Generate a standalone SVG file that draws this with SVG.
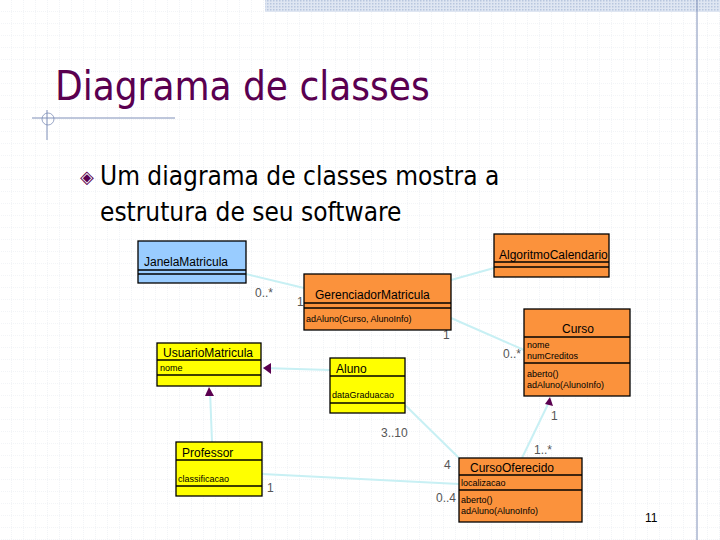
<svg xmlns="http://www.w3.org/2000/svg" width="720" height="540" viewBox="0 0 720 540">
<defs>
<pattern id="grid" width="12" height="12" patternUnits="userSpaceOnUse"><path d="M12 0V12H0" fill="none" stroke="#d4dbe6" stroke-width="0.6" stroke-dasharray="1,1"/></pattern>
<pattern id="hatch" width="3" height="3" patternUnits="userSpaceOnUse"><rect width="3" height="3" fill="#dfe6f2"/><rect width="1.5" height="1.5" fill="#b8c6de"/></pattern>
</defs>
<style>
.b{stroke:#000;stroke-width:1.3}
.o{fill:#fb923c}.y{fill:#ffff00}.bl{fill:#99ccff}
.t{font-family:"Liberation Sans",Arial,sans-serif;font-size:12px;fill:#000}
.s{font-family:"Liberation Sans",Arial,sans-serif;font-size:9px;fill:#000}
.m{font-family:"Liberation Sans",Arial,sans-serif;font-size:12px;fill:#555}
.c{stroke:#c8f0f4;stroke-width:2;fill:none}
</style>
<rect width="720" height="540" fill="#fff"/>
<rect width="720" height="540" fill="url(#grid)"/>
<rect x="265" y="0" width="455" height="12" fill="url(#hatch)"/>
<line x1="697" y1="0" x2="697" y2="540" stroke="#7f8fb8" stroke-width="1"/>
<line x1="32" y1="118" x2="175" y2="118" stroke="#7f8fb8" stroke-width="1"/>
<line x1="47" y1="110" x2="47" y2="140" stroke="#7f8fb8" stroke-width="1"/>
<circle cx="48" cy="119" r="6" fill="none" stroke="#7f8fb8" stroke-width="0.8"/>
<text x="55" y="100" font-family="DejaVu Sans Condensed,Verdana,sans-serif" font-size="40" fill="#5a0050">Diagrama de classes</text>
<text x="80" y="183" font-family="DejaVu Sans" font-size="18" fill="#5a0050">◈</text>
<text x="100" y="185" font-family="DejaVu Sans Condensed,Verdana,sans-serif" font-size="26" fill="#000">Um diagrama de classes mostra a</text>
<text x="100" y="221" font-family="DejaVu Sans Condensed,Verdana,sans-serif" font-size="26" fill="#000">estrutura de seu software</text>
<g id="connectors">
<path class="c" d="M246 274L304 288"/>
<path class="c" d="M451 280L494 268"/>
<path class="c" d="M451 318L524 350"/>
<path class="c" d="M330 370L263 368"/>
<path class="c" d="M212 442L210 390"/>
<path class="c" d="M405 405L459 458"/>
<path class="c" d="M262 474L459 484"/>
<path class="c" d="M522 458L550 400"/>
<polygon points="263,368 271,363 271,374" fill="#5a0050"/>
<polygon points="209,387 205,396 214,396" fill="#5a0050"/>
<polygon points="550,397 545,404 553,406" fill="#5a0050"/>
<text class="m" x="255" y="297">0..*</text>
<text class="m" x="297" y="306">1</text>
<text class="m" x="443" y="339">1</text>
<text class="m" x="503" y="358">0..*</text>
<text class="m" x="551" y="420">1</text>
<text class="m" x="381" y="437">3..10</text>
<text class="m" x="534" y="454">1..*</text>
<text class="m" x="444" y="469">4</text>
<text class="m" x="267" y="492">1</text>
<text class="m" x="436" y="502">0..4</text>
</g>
<g id="JanelaMatricula"><rect class="b bl" x="138" y="241" width="108" height="42"/><line class="b" x1="138" y1="270" x2="246" y2="270"/><line class="b" x1="138" y1="274" x2="246" y2="274"/><text class="t" x="144" y="266">JanelaMatricula</text></g>
<g id="GerenciadorMatricula"><rect class="b o" x="304" y="274" width="147" height="56"/><line class="b" x1="304" y1="303" x2="451" y2="303"/><line class="b" x1="304" y1="308" x2="451" y2="308"/><text class="t" x="315" y="299">GerenciadorMatricula</text><text class="s" x="306" y="322">adAluno(Curso, AlunoInfo)</text></g>
<g id="AlgoritmoCalendario"><rect class="b o" x="494" y="234" width="115" height="43"/><line class="b" x1="494" y1="262" x2="609" y2="262"/><line class="b" x1="494" y1="267" x2="609" y2="267"/><text class="t" x="499" y="259">AlgoritmoCalendario</text></g>
<g id="Curso"><rect class="b o" x="524" y="309" width="106" height="87"/><line class="b" x1="524" y1="337" x2="630" y2="337"/><line class="b" x1="524" y1="363" x2="630" y2="363"/><text class="t" x="562" y="333">Curso</text><text class="s" x="527" y="348">nome</text><text class="s" x="527" y="359">numCreditos</text><text class="s" x="527" y="377">aberto()</text><text class="s" x="527" y="388">adAluno(AlunoInfo)</text></g>
<g id="UsuarioMatricula"><rect class="b y" x="157" y="343" width="104" height="43"/><line class="b" x1="157" y1="360" x2="261" y2="360"/><line class="b" x1="157" y1="375" x2="261" y2="375"/><text class="t" x="163" y="357">UsuarioMatricula</text><text class="s" x="160" y="371">nome</text></g>
<g id="Aluno"><rect class="b y" x="330" y="358" width="75" height="55"/><line class="b" x1="330" y1="376" x2="405" y2="376"/><line class="b" x1="330" y1="403" x2="405" y2="403"/><text class="t" x="336" y="373">Aluno</text><text class="s" x="332" y="398">dataGraduacao</text></g>
<g id="Professor"><rect class="b y" x="176" y="442" width="86" height="54"/><line class="b" x1="176" y1="460" x2="262" y2="460"/><line class="b" x1="176" y1="486" x2="262" y2="486"/><text class="t" x="182" y="457">Professor</text><text class="s" x="178" y="482">classificacao</text></g>
<g id="CursoOferecido"><rect class="b o" x="459" y="458" width="123" height="64"/><line class="b" x1="459" y1="475" x2="582" y2="475"/><line class="b" x1="459" y1="490" x2="582" y2="490"/><text class="t" x="470" y="472">CursoOferecido</text><text class="s" x="461" y="486">localizacao</text><text class="s" x="461" y="503">aberto()</text><text class="s" x="461" y="514">adAluno(AlunoInfo)</text></g>
<text x="645" y="522" font-family="Liberation Sans,Arial,sans-serif" font-size="12" fill="#000">11</text>
</svg>
